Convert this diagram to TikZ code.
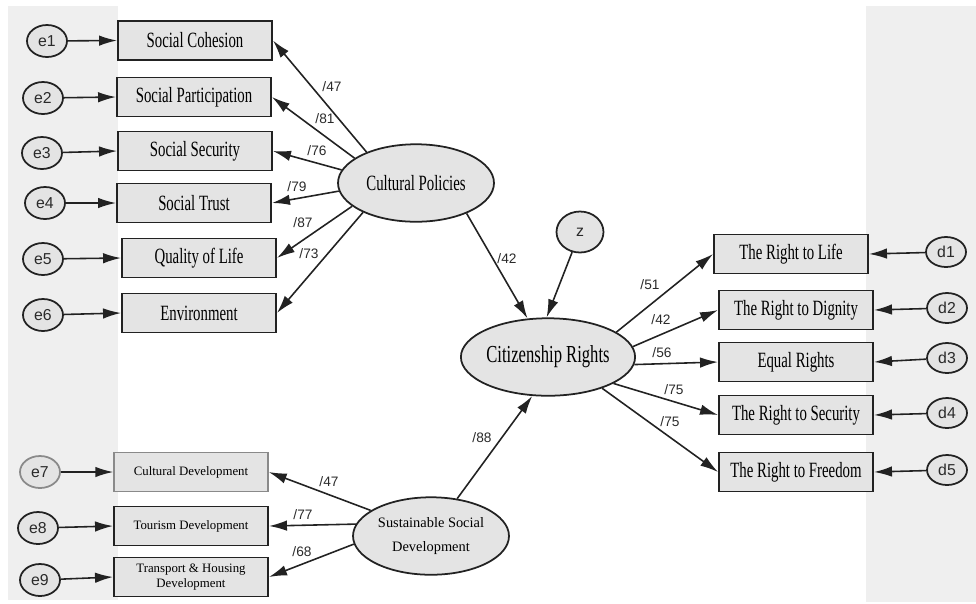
\documentclass[tikz,border=0pt]{standalone}
\usepackage{fontspec}
\setmainfont{Liberation Serif}
\newfontfamily\condfont[FakeStretch=0.68]{Liberation Serif}
\newfontfamily\labfont{Liberation Sans}
\usetikzlibrary{arrows.meta,shapes.geometric}
\definecolor{stripgray}{HTML}{EFEFEF}
\definecolor{fillgray}{HTML}{E4E4E4}
\definecolor{edgedark}{HTML}{222222}
\definecolor{edgelight}{HTML}{8A8A8A}
\definecolor{labgray}{HTML}{2A2A2A}
\begin{document}
\begin{tikzpicture}[x=0.02cm,y=-0.02cm,
 arr/.style={-{Latex[length=0.36cm,width=0.21cm]}, line width=0.9pt, draw=edgedark},
 obs/.style={rectangle, draw=edgedark, line width=1.1pt, fill=fillgray, minimum width=3.08cm, minimum height=0.78cm, inner sep=0pt, text=black, font=\condfont\fontsize{12.4}{14}\selectfont},
 obssmall/.style={obs, font=\fontsize{7.3}{8.8}\selectfont, align=center},
 lat/.style={ellipse, draw=edgedark, line width=1pt, fill=fillgray, minimum width=3.12cm, minimum height=1.55cm, inner sep=0pt},
 err/.style={ellipse, draw=edgedark, line width=1pt, fill=fillgray, minimum width=0.8cm, minimum height=0.64cm, inner sep=0pt, font=\labfont\fontsize{9}{10}\selectfont, text=labgray},
 coef/.style={font=\labfont\fontsize{7.8}{9}\selectfont, text=labgray, inner sep=0pt}
]
\useasboundingbox (0,0) rectangle (976,603);
\fill[stripgray] (8,6) rectangle (118,600);
\fill[stripgray] (866,6) rectangle (976,602);

% observed variables, left
\node[obs] (sc) at (195,40.5) {Social Cohesion};
\node[obs] (sp) at (194,97) {Social Participation};
\node[obs] (ss) at (195,151) {Social Security};
\node[obs] (st) at (194,203) {Social Trust};
\node[obs] (ql) at (199,258) {Quality of Life};
\node[obs] (en) at (199,313) {Environment};
\node[obssmall, draw=edgelight, line width=0.8pt] (cd) at (191,472) {Cultural Development};
\node[obssmall] (td) at (191,526) {Tourism Development};
\node[obssmall] (th) at (191,577) {Transport \& Housing\\Development};

% errors, left
\node[err] (e1) at (47,41) {e1};
\node[err] (e2) at (43,98) {e2};
\node[err] (e3) at (42,153) {e3};
\node[err] (e4) at (45,203) {e4};
\node[err] (e5) at (43,259) {e5};
\node[err] (e6) at (43,315) {e6};
\node[err, draw=edgelight] (e7) at (40,472) {e7};
\node[err] (e8) at (38,528) {e8};
\node[err] (e9) at (40,580) {e9};

% latent variables
\node[lat, font=\condfont\fontsize{12.4}{14}\selectfont] (cp) at (416,183) {Cultural Policies};
\node[lat, font=\condfont\fontsize{13.9}{15}\selectfont] (cr) at (548,357) {Citizenship Rights};
\node[lat, align=center, font=\fontsize{8.2}{14.2}\selectfont] (sd) at (431,536) {Sustainable Social\\Development};
\node[err, minimum width=0.94cm, minimum height=0.82cm] (z) at (580,232) {z};

% observed variables, right
\node[obs] (rl) at (791,254) {The Right to Life};
\node[obs] (rd) at (796,310) {The Right to Dignity};
\node[obs] (er) at (796,362) {Equal Rights};
\node[obs] (rs) at (796,415) {The Right to Security};
\node[obs] (rf) at (796,472) {The Right to Freedom};

% errors, right
\node[err, minimum height=0.6cm] (d1) at (946,252) {d1};
\node[err, minimum height=0.6cm] (d2) at (947,308) {d2};
\node[err, minimum height=0.6cm] (d3) at (947,358) {d3};
\node[err, minimum height=0.6cm] (d4) at (947,413) {d4};
\node[err, minimum height=0.6cm] (d5) at (947,470) {d5};

% error arrows
\foreach \e/\b in {e1/sc,e2/sp,e3/ss,e4/st,e5/ql,e6/en,e7/cd,e8/td,e9/th}
  \draw[arr] (\e) -- (\b.west);
\foreach \d/\b in {d1/rl,d2/rd,d3/er,d4/rs,d5/rf}
  \draw[arr] (\d) -- (\b.east);

% cultural policies loadings
\draw[arr] (cp.148.7) -- (sc.east);
\draw[arr] (cp.158.4) -- (sp.east);
\draw[arr] (cp.170.3) -- (ss.east);
\draw[arr] (cp.186.7) -- (st.east);
\draw[arr] (cp.200.6) -- (ql.east);
\draw[arr] (cp.209.5) -- (en.east);

% sustainable social development loadings
\draw[arr] (sd.157.6) -- (cd.east);
\draw[arr] (sd.171) -- (td.east);
\draw[arr] (sd.186.7) -- (th.east);

% structural paths
\draw[arr] (cp.-31.5) -- (cr.118);
\draw[arr] (sd.55) -- (cr.-112);
\draw[arr] (z) -- (cr.92);

% citizenship rights loadings
\draw[arr] (cr.20.3) -- (rl.west);
\draw[arr] (cr.7.4) -- (rd.west);
\draw[arr] (cr.-5.1) -- (er.west);
\draw[arr] (cr.-22.7) -- (rs.west);
\draw[arr] (cr.-30.8) -- (rf.west);

% coefficients
\node[coef] (c1) at (332,87) {/47};
\node[coef] (c2) at (325,119) {/81};
\node[coef] (c3) at (317,151) {/76};
\node[coef] (c4) at (297,187) {/79};
\node[coef] (c5) at (303,223) {/87};
\node[coef] (c6) at (309,254) {/73};
\node[coef] (c7) at (507,259) {/42};
\node[coef] (c8) at (482,438) {/88};
\node[coef] (c9) at (329,482) {/47};
\node[coef] (c10) at (303,515) {/77};
\node[coef] (c11) at (302,552) {/68};
\node[coef] (c12) at (650,285) {/51};
\node[coef] (c13) at (661,320) {/42};
\node[coef] (c14) at (662,353) {/56};
\node[coef] (c15) at (674,390) {/75};
\node[coef] (c16) at (670,422) {/75};
\end{tikzpicture}
\end{document}
